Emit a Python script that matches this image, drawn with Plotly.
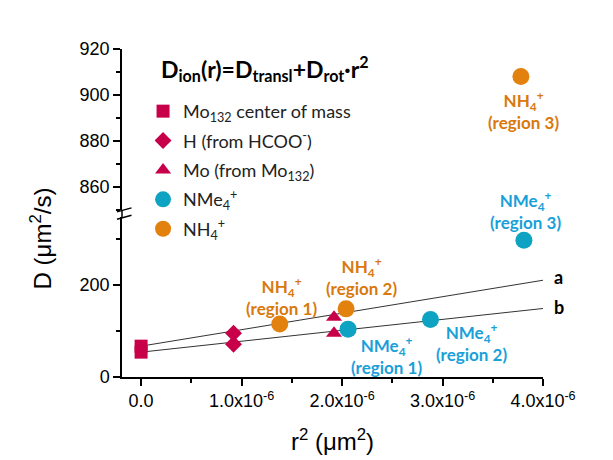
import plotly.graph_objects as go

# ---- data ----
sq_x = [0.0, 0.0]
sq_y = [54, 67]
di_x = [0.92e-6, 0.92e-6]
di_y = [71, 95]
tr_x = [1.92e-6, 1.92e-6]
tr_y = [95, 130]
nme4_x = [2.06e-6, 2.88e-6, 3.81e-6]
nme4_y = [104, 125, 297]
nh4_x = [1.38e-6, 2.04e-6, 3.78e-6]
nh4_y = [115, 148, 908]
fit_x = [0.0, 4.05e-6]
fit_a = [67, 212]
fit_b = [54, 150]

x_tickvals = [0, 1e-6, 2e-6, 3e-6, 4e-6]
x_ticktext = ["0.0", "1.0x10<sup>-6</sup>", "2.0x10<sup>-6</sup>",
              "3.0x10<sup>-6</sup>", "4.0x10<sup>-6</sup>"]

CRIMSON = "#C8004A"
TEAL = "#0FA3C3"
ORANGE = "#E2810E"
ORANGE_TXT = "#D9790C"
BLUE_TXT = "#1AA0D9"
CAL = "Lato, 'Open Sans', sans-serif"
ARIAL = "'Liberation Sans', Arial, sans-serif"

BREAK = 800
nh4_lo = [(x, y) for x, y in zip(nh4_x, nh4_y) if y < BREAK]
nh4_hi = [(x, y) for x, y in zip(nh4_x, nh4_y) if y >= BREAK]

fig = go.Figure()
fig.add_trace(go.Scatter(x=fit_x, y=fit_a, mode="lines", line=dict(color="#333333", width=1),
                         showlegend=False, hoverinfo="skip"))
fig.add_trace(go.Scatter(x=fit_x, y=fit_b, mode="lines", line=dict(color="#333333", width=1),
                         showlegend=False, hoverinfo="skip"))
fig.add_trace(go.Scatter(x=sq_x, y=sq_y, mode="markers", name="Mo<sub>132</sub> center of mass",
                         legendgroup="g1",
                         marker=dict(symbol="square", size=13, color=CRIMSON)))
fig.add_trace(go.Scatter(x=di_x, y=di_y, mode="markers", name="H (from HCOO<sup>-</sup>)",
                         legendgroup="g2",
                         marker=dict(symbol="diamond", size=13, color=CRIMSON)))
fig.add_trace(go.Scatter(x=tr_x, y=tr_y, mode="markers", name="Mo (from Mo<sub>132</sub>)",
                         legendgroup="g3",
                         marker=dict(symbol="triangle-up", size=14, color=CRIMSON)))
fig.add_trace(go.Scatter(x=nme4_x, y=nme4_y, mode="markers", name="NMe<sub>4</sub><sup>+</sup>",
                         legendgroup="g4",
                         marker=dict(symbol="circle", size=17, color=TEAL)))
fig.add_trace(go.Scatter(x=[p[0] for p in nh4_lo], y=[p[1] for p in nh4_lo], mode="markers",
                         name="NH<sub>4</sub><sup>+</sup>", legendgroup="g5",
                         marker=dict(symbol="circle", size=17, color=ORANGE)))
fig.add_trace(go.Scatter(x=[p[0] for p in nh4_hi], y=[p[1] for p in nh4_hi], mode="markers",
                         yaxis="y2", showlegend=False, legendgroup="g5",
                         marker=dict(symbol="circle", size=17, color=ORANGE)))

axis_common = dict(showline=True, linecolor="black", linewidth=1.5, ticks="outside",
                   ticklen=7, tickwidth=1.5, tickcolor="black", showgrid=False, zeroline=False,
                   automargin=False,
                   tickfont=dict(family=ARIAL, size=18, color="black"))

fig.update_layout(
    width=605, height=452,
    margin=dict(l=114, r=70, t=41, b=83),
    paper_bgcolor="white", plot_bgcolor="white",
    xaxis=dict(range=[-0.19e-6, 4.0e-6], tickvals=x_tickvals, ticktext=x_ticktext,
               minor=dict(dtick=0.5e-6, tick0=0, ticks="outside", ticklen=4, tickwidth=1.5,
                          tickcolor="black"),
               anchor="y",
               title=dict(text="r<sup>2</sup> (μm<sup>2</sup>)", font=dict(family=ARIAL, size=24, color="black"),
                          standoff=23),
               **axis_common),
    yaxis=dict(domain=[0, 0.4873], range=[0, 347.2], tickvals=[0, 200],
               minor=dict(dtick=100, tick0=0, ticks="outside", ticklen=4, tickwidth=1.5,
                          tickcolor="black"),
               anchor="x", **axis_common),
    yaxis2=dict(domain=[0.5087, 1], range=[849.85, 920], tick0=860, dtick=20,
                minor=dict(dtick=10, tick0=860, ticks="outside", ticklen=4, tickwidth=1.5,
                           tickcolor="black"),
                anchor="x", **axis_common),
    legend=dict(x=0.05, y=0.866, xanchor="left", yanchor="top", bgcolor="rgba(0,0,0,0)",
                font=dict(family=CAL, size=18, color="#222222"), tracegroupgap=3,
                itemwidth=30),
    showlegend=True,
)

annos = [
    dict(x=-0.192, y=0.423, text="D (μm<sup>2</sup>/s)", textangle=-90,
         font=dict(family=ARIAL, size=24, color="black")),
    dict(x=0.088, y=0.942, xanchor="left",
         text="<b>D<sub>ion</sub>(r)=D<sub>transl</sub>+D<sub>rot</sub>·r<sup>2</sup></b>",
         font=dict(family=CAL, size=23, color="black")),
    dict(x=0.3777, y=0.2463, text="<b>NH<sub>4</sub><sup>+</sup><br>(region 1)</b>",
         font=dict(family=CAL, size=17, color=ORANGE_TXT)),
    dict(x=0.5677, y=0.3058, text="<b>NH<sub>4</sub><sup>+</sup><br>(region 2)</b>",
         font=dict(family=CAL, size=17, color=ORANGE_TXT)),
    dict(x=0.9525, y=0.8136, text="<b>NH<sub>4</sub><sup>+</sup><br>(region 3)</b>",
         font=dict(family=CAL, size=17, color=ORANGE_TXT)),
    dict(x=0.6271, y=0.0662, text="<b>NMe<sub>4</sub><sup>+</sup><br>(region 1)</b>",
         font=dict(family=CAL, size=17, color=BLUE_TXT)),
    dict(x=0.829, y=0.1044, text="<b>NMe<sub>4</sub><sup>+</sup><br>(region 2)</b>",
         font=dict(family=CAL, size=17, color=BLUE_TXT)),
    dict(x=0.9596, y=0.5087, text="<b>NMe<sub>4</sub><sup>+</sup><br>(region 3)</b>",
         font=dict(family=CAL, size=17, color=BLUE_TXT)),
    dict(x=1.038, y=0.3042, text="<b>a</b>", font=dict(family=CAL, size=18, color="black")),
    dict(x=1.038, y=0.213, text="<b>b</b>", font=dict(family=CAL, size=18, color="black")),
]
for a in annos:
    a.setdefault("xref", "paper")
    a.setdefault("yref", "paper")
    a.setdefault("xanchor", "center")
    a.setdefault("yanchor", "middle")
    a.setdefault("showarrow", False)
    fig.add_annotation(**a)

# axis break marks and connecting segment
shapes = [
    dict(type="line", xref="paper", yref="paper", x0=0, x1=0, y0=0.4873, y1=0.5087,
         line=dict(color="black", width=1.5)),
    dict(type="line", xref="paper", yref="paper", x0=-0.0119, x1=0.0226, y0=0.5035, y1=0.5157,
         line=dict(color="black", width=1.5)),
    dict(type="line", xref="paper", yref="paper", x0=-0.0119, x1=0.0226, y0=0.4812, y1=0.4934,
         line=dict(color="black", width=1.5)),
    # light image frame (right edge)
    dict(type="line", xref="paper", yref="paper", x0=1.154, x1=1.154, y0=1.2, y1=-0.3,
         line=dict(color="#DADADA", width=1.5)),
]
for s in shapes:
    fig.add_shape(**s)

fig.write_html("out.html")
